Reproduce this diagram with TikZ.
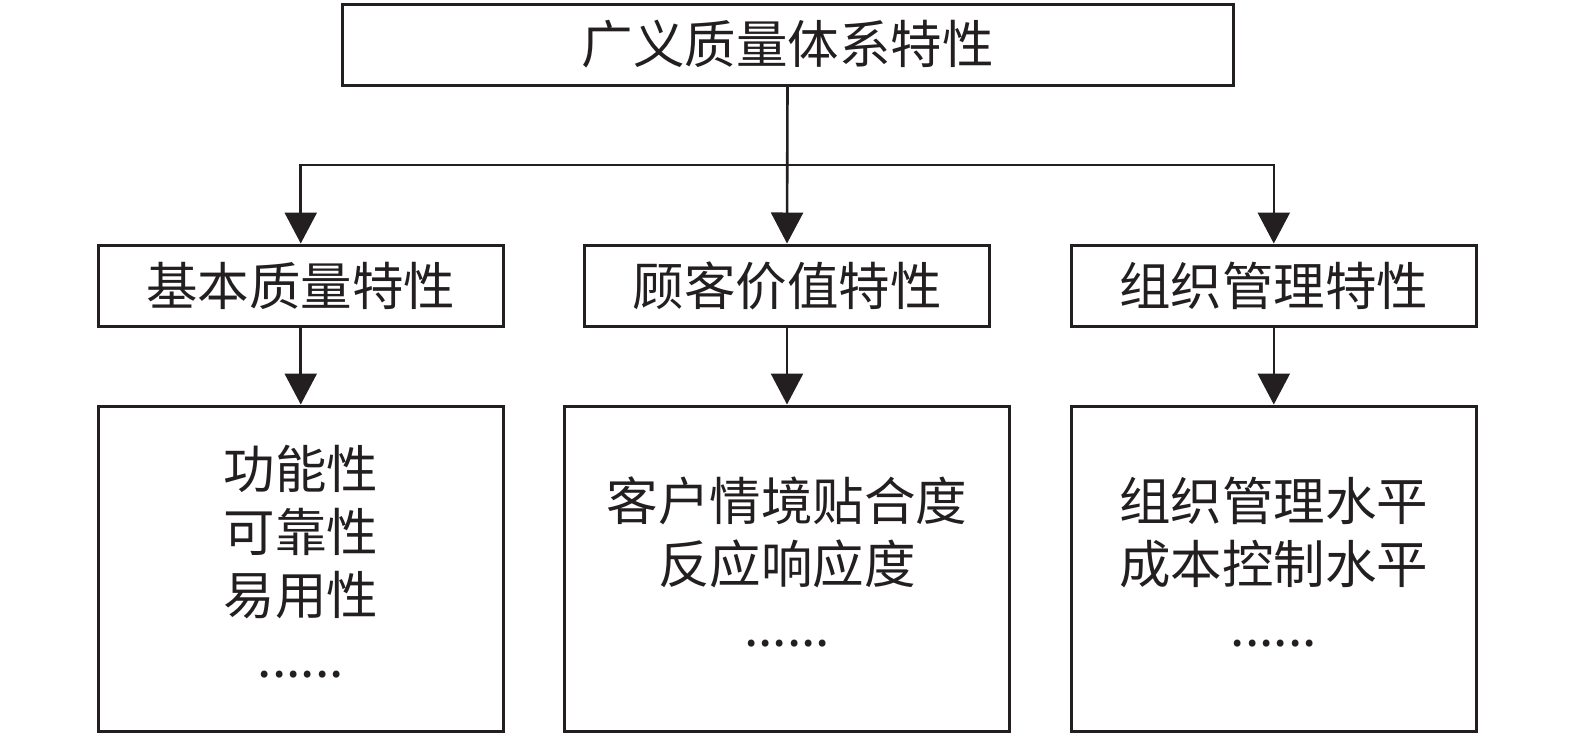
\documentclass[tikz,border=0pt]{standalone}
\usepackage{fontspec}
\setmainfont{Noto Sans CJK SC}
\usetikzlibrary{arrows.meta}
\definecolor{ink}{HTML}{231F20}
\tikzset{
  box/.style={draw=ink, line width=1.5pt, inner sep=0pt, align=center, text=ink,
    font=\fontsize{25.75}{31.5}\selectfont},
  arr/.style={draw=ink, line width=1.3pt, -{Triangle[width=16pt,length=15.5pt]}},
  link/.style={draw=ink, line width=1.3pt}
}
\begin{document}
\begin{tikzpicture}[x=0.5pt,y=-0.5pt]
\useasboundingbox (0,0) rectangle (1575,736);
\node[box, minimum width=445.5pt, minimum height=40.5pt] (top) at (787.5,44.5) {广义质量体系特性};
\node[box, minimum width=202.25pt, minimum height=40.5pt] (b1) at (300.75,285.5) {基本质量特性};
\node[box, minimum width=202.5pt, minimum height=40.5pt] (b2) at (787,285.5) {顾客价值特性};
\node[box, minimum width=202.8pt, minimum height=40.5pt] (b3) at (1273.8,285.5) {组织管理特性};
\node[box, minimum width=202.25pt, minimum height=162.5pt] (c1) at (300.75,568.5) {};
\node[box, minimum width=222.5pt, minimum height=162.5pt] (c2) at (787,568.5) {};
\node[box, minimum width=202.8pt, minimum height=162.5pt] (c3) at (1273.8,568.5) {};
\node[box, draw=none] (t1) at (300.75,562) {功能性\\可靠性\\易用性\\......};
\node[box, draw=none] (t2) at (787,562) {客户情境贴合度\\反应响应度\\......};
\node[box, draw=none] (t3) at (1273.8,562) {组织管理水平\\成本控制水平\\......};
\coordinate (j) at (787.5,165);
\draw[arr] (top.south) -- (b2.north);
\draw[arr] (j) -| (b1.north);
\draw[arr] (j) -| (b3.north);
\draw[arr] (b1.south) -- (c1.north);
\draw[arr] (b2.south) -- (c2.north);
\draw[arr] (b3.south) -- (c3.north);
\end{tikzpicture}
\end{document}
